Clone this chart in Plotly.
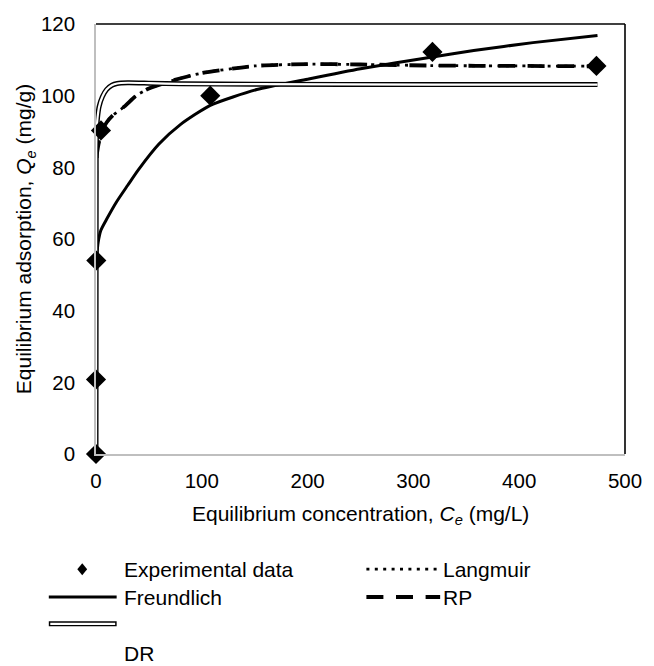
import plotly.graph_objects as go

# Experimental data
exp_ce = [0, 0, 0.3, 4.7, 108, 318, 473]
exp_qe = [0, 20.8, 54, 90.3, 100, 112.2, 108.3]

# Model curves
fr_ce = [0, 0.3, 1, 2, 4.7, 10, 19.5, 30, 40, 59.5, 80, 108, 152, 200, 250, 318, 357, 413, 474]
fr_qe = [0, 52, 56, 59, 62.5, 65.5, 70.4, 75, 79.3, 86.5, 92, 97.3, 101.7, 104.6, 107.5, 110.8, 112.6, 114.8, 116.8]

lg_ce = [0, 0.3, 1, 4.7, 10, 16, 27, 38, 50, 72, 100, 150, 200, 250, 318, 400, 474]
lg_qe = [0, 80, 84, 89.5, 92.5, 94.5, 97, 100, 102, 104.2, 106.3, 108.3, 108.8, 108.7, 108.4, 108.3, 108.2]

rp_ce = [0, 0.3, 1, 4.7, 10, 16, 27, 38, 50, 72, 100, 150, 200, 250, 318, 400, 474]
rp_qe = [0, 80, 84, 89.5, 92.5, 94.5, 97, 100, 102, 104.2, 106.3, 108.3, 108.8, 108.7, 108.4, 108.3, 108.2]

dr_ce = [0, 0.2, 0.6, 1.5, 3, 6, 10, 15, 20, 30, 50, 80, 150, 318, 474]
dr_qe = [0, 85, 90, 94, 97, 99.7, 101.7, 102.9, 103.4, 103.6, 103.5, 103.3, 103.2, 103.1, 103.1]

x_ticks = [0, 100, 200, 300, 400, 500]
y_ticks = [0, 20, 40, 60, 80, 100, 120]

FONT = "Liberation Sans, Arial, sans-serif"
FS = 21
TFS = 20.5

# plot area geometry in px (for legend placement in paper coords)
L, R, T, B = 96, 20, 21, 212
W, H = 654, 666
PW, PH = W - L - R, H - T - B


def px(xp):
    return (xp - L) / PW


def py(yp):
    return (H - B - yp) / PH


SM = 0.6
fig = go.Figure()
fig.add_trace(go.Scatter(x=fr_ce, y=fr_qe, mode="lines", name="Freundlich",
                         line=dict(color="black", width=3, shape="spline", smoothing=SM)))
fig.add_trace(go.Scatter(x=lg_ce, y=lg_qe, mode="lines", name="Langmuir",
                         line=dict(color="black", width=2.8, dash="3px,5.4px", shape="spline", smoothing=SM)))
fig.add_trace(go.Scatter(x=rp_ce, y=rp_qe, mode="lines", name="RP",
                         line=dict(color="black", width=3.8, dash="17px,12.6px", shape="spline", smoothing=SM)))
fig.add_trace(go.Scatter(x=dr_ce, y=dr_qe, mode="lines", name="DR",
                         line=dict(color="black", width=5, shape="spline", smoothing=SM)))
fig.add_trace(go.Scatter(x=dr_ce, y=dr_qe, mode="lines", showlegend=False,
                         line=dict(color="white", width=2.2, shape="spline", smoothing=SM)))
fig.add_trace(go.Scatter(x=exp_ce, y=exp_qe, mode="markers", name="Experimental data", cliponaxis=False,
                         marker=dict(symbol="diamond", size=15.5, color="black", line=dict(width=0))))

# plot border (top/right black)
fig.add_shape(type="line", xref="paper", yref="paper", x0=0, x1=1, y0=1, y1=1,
              line=dict(color="black", width=1.6))
fig.add_shape(type="line", xref="paper", yref="paper", x0=1, x1=1, y0=0, y1=1,
              line=dict(color="black", width=1.6))

# axis titles
fig.add_annotation(xref="paper", yref="paper", x=px(365), y=py(515), xanchor="center", yanchor="middle",
                   text="Equilibrium concentration, <i>C</i><sub><i>e</i></sub> (mg/L)", showarrow=False,
                   font=dict(family=FONT, size=FS, color="black"))
fig.add_annotation(xref="paper", yref="paper", x=px(24), y=0.5, xanchor="center", yanchor="middle",
                   textangle=-90, text="Equilibrium adsorption, <i>Q</i><sub><i>e</i></sub> (mg/g)",
                   showarrow=False, font=dict(family=FONT, size=FS, color="black"))

# manual legend
r1, r2, r3, r4 = 570, 598, 625, 655
# Experimental data
fig.add_shape(type="path", xref="paper", yref="paper",
              path=f"M {px(82)} {py(r1-6)} L {px(87)} {py(r1)} L {px(82)} {py(r1+6)} L {px(77)} {py(r1)} Z",
              fillcolor="black", line=dict(width=0))
fig.add_annotation(xref="paper", yref="paper", x=px(122), y=py(r1), xanchor="left", yanchor="middle",
                   text="Experimental data", showarrow=False, font=dict(family=FONT, size=FS, color="black"))
# Freundlich
fig.add_shape(type="line", xref="paper", yref="paper", x0=px(48), x1=px(117), y0=py(r2), y1=py(r2),
              line=dict(color="black", width=3))
fig.add_annotation(xref="paper", yref="paper", x=px(122), y=py(r2), xanchor="left", yanchor="middle",
                   text="Freundlich", showarrow=False, font=dict(family=FONT, size=FS, color="black"))
# DR
fig.add_shape(type="line", xref="paper", yref="paper", x0=px(48), x1=px(117), y0=py(r3), y1=py(r3),
              line=dict(color="black", width=5))
fig.add_shape(type="line", xref="paper", yref="paper", x0=px(49.5), x1=px(115.5), y0=py(r3), y1=py(r3),
              line=dict(color="white", width=2.2))
fig.add_annotation(xref="paper", yref="paper", x=px(122), y=py(r4), xanchor="left", yanchor="middle",
                   text="DR", showarrow=False, font=dict(family=FONT, size=FS, color="black"))
# Langmuir
fig.add_shape(type="line", xref="paper", yref="paper", x0=px(371), x1=px(446), y0=py(r1), y1=py(r1),
              line=dict(color="black", width=2.8, dash="3px,5.4px"))
fig.add_annotation(xref="paper", yref="paper", x=px(447), y=py(r1), xanchor="left", yanchor="middle",
                   text="Langmuir", showarrow=False, font=dict(family=FONT, size=FS, color="black"))
# RP
fig.add_shape(type="line", xref="paper", yref="paper", x0=px(371), x1=px(446), y0=py(r2), y1=py(r2),
              line=dict(color="black", width=3.8, dash="17px,12.6px"))
fig.add_annotation(xref="paper", yref="paper", x=px(447), y=py(r2), xanchor="left", yanchor="middle",
                   text="RP", showarrow=False, font=dict(family=FONT, size=FS, color="black"))

fig.update_layout(
    width=W, height=H,
    margin=dict(l=L, r=R, t=T, b=B),
    paper_bgcolor="white", plot_bgcolor="white",
    showlegend=False,
    font=dict(family=FONT, size=FS, color="black"),
    xaxis=dict(range=[0, 500], tickvals=x_ticks, ticktext=[str(v) for v in x_ticks],
               showgrid=False, zeroline=False, showline=True, linecolor="#BFBFBF", linewidth=1.5,
               ticks="", ticklabelstandoff=8, tickfont=dict(size=TFS)),
    yaxis=dict(range=[0, 120], tickvals=y_ticks, ticktext=[str(v) for v in y_ticks],
               showgrid=False, zeroline=False, showline=True, linecolor="#BFBFBF", linewidth=1.5,
               ticks="", ticklabelstandoff=15, tickfont=dict(size=TFS)),
)

fig.write_html("out.html", config={"displayModeBar": False},
               post_script="document.body.style.margin='0px';")
